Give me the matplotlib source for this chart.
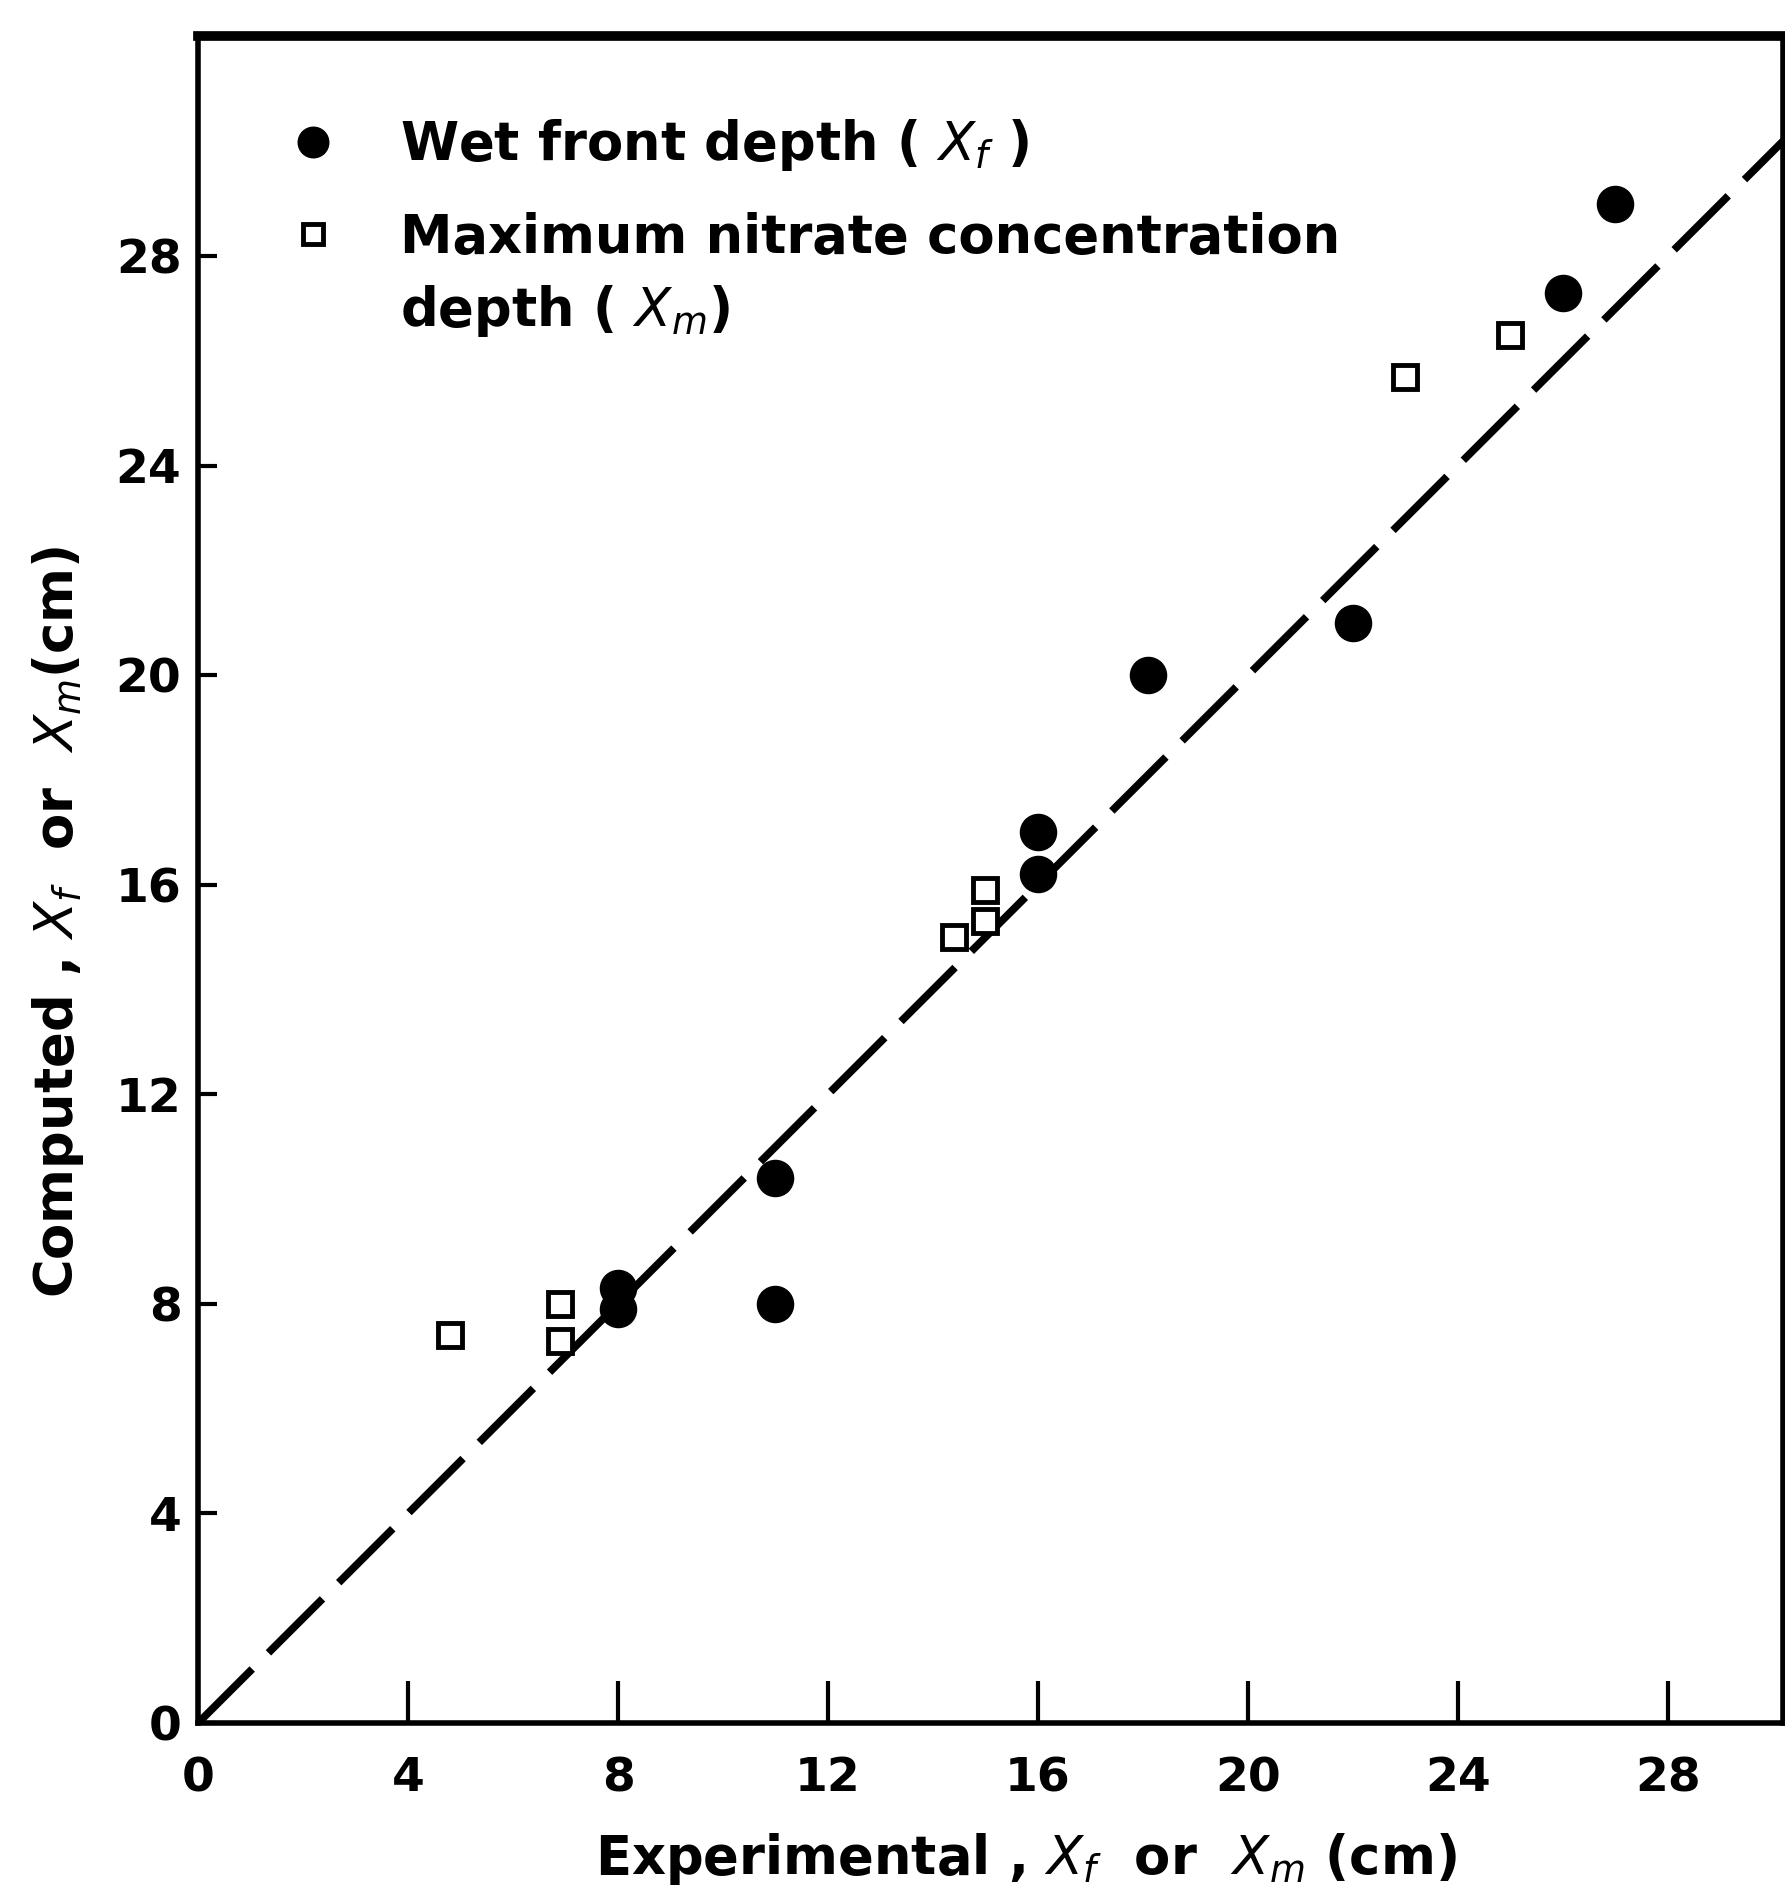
import matplotlib.pyplot as plt
from matplotlib.lines import Line2D

plt.rcParams["font.family"] = "DejaVu Sans"
plt.rcParams["mathtext.fontset"] = "dejavusans"

# Wet front depth (X_f): experimental vs computed
wet_exp = [27, 26, 22, 18.1, 16, 16, 11, 11, 8, 8]
wet_comp = [29.0, 27.3, 21.0, 20.0, 17.0, 16.2, 10.4, 8.0, 8.3, 7.9]

# Maximum nitrate concentration depth (X_m)
max_exp = [23, 25, 14.4, 15, 15, 4.8, 6.9, 6.9]
max_comp = [25.7, 26.5, 15.0, 15.9, 15.3, 7.4, 8.0, 7.3]

ticks = [0, 4, 8, 12, 16, 20, 24, 28]
line_ends = [0, 31]

fig = plt.figure(figsize=(17.85, 19.03), dpi=100)
ax = fig.add_axes([0.111, 0.0946, 0.888, 0.8864])

ax.plot(line_ends, line_ends, color="black", lw=5.5, dashes=(10, 3), zorder=1)
ax.plot(wet_exp, wet_comp, "o", color="black", markersize=26, zorder=3)
ax.plot(max_exp, max_comp, "s", markerfacecolor="white", markeredgecolor="black",
        markersize=17, markeredgewidth=3.5, zorder=2)

ax.set_xlim(0, 30.2)
ax.set_ylim(0, 32.2)
ax.set_xticks(ticks)
ax.set_yticks(ticks)
ax.tick_params(axis="x", direction="in", length=30, width=3, labelsize=34, pad=24)
ax.tick_params(axis="y", direction="in", length=14, width=3, labelsize=34, pad=12)
for s in ax.spines.values():
    s.set_linewidth(4)
ax.spines["top"].set_linewidth(7)

for lab in ax.get_xticklabels() + ax.get_yticklabels():
    lab.set_fontweight("bold")

ax.set_xlabel("Experimental , $X_f$  or  $X_m$ (cm)", fontsize=38, fontweight="bold")
ax.xaxis.set_label_coords(0.522, -0.064)
ax.set_ylabel("Computed , $X_f$  or  $X_m$(cm)", fontsize=38, fontweight="bold")
ax.yaxis.set_label_coords(-0.071, 0.475)

leg_kw = dict(loc="upper left", frameon=False, handlelength=1, handletextpad=1.15,
              prop={"weight": "bold", "size": 38})
h_wet = Line2D([], [], marker="o", ls="none", color="black", markersize=22)
h_max = Line2D([], [], marker="s", ls="none", markerfacecolor="white",
               markeredgecolor="black", markersize=14, markeredgewidth=3.5)
h_blank = Line2D([], [], ls="none")

leg1 = ax.legend([h_wet], ["Wet front depth ( $X_f$ )"],
                 bbox_to_anchor=(0.026, 0.98), **leg_kw)
ax.add_artist(leg1)
ax.legend([h_max, h_blank], ["Maximum nitrate concentration", "depth ( $X_m$)"],
          bbox_to_anchor=(0.026, 0.924), labelspacing=0.36, **leg_kw)

fig.savefig("out.png", dpi=100)
